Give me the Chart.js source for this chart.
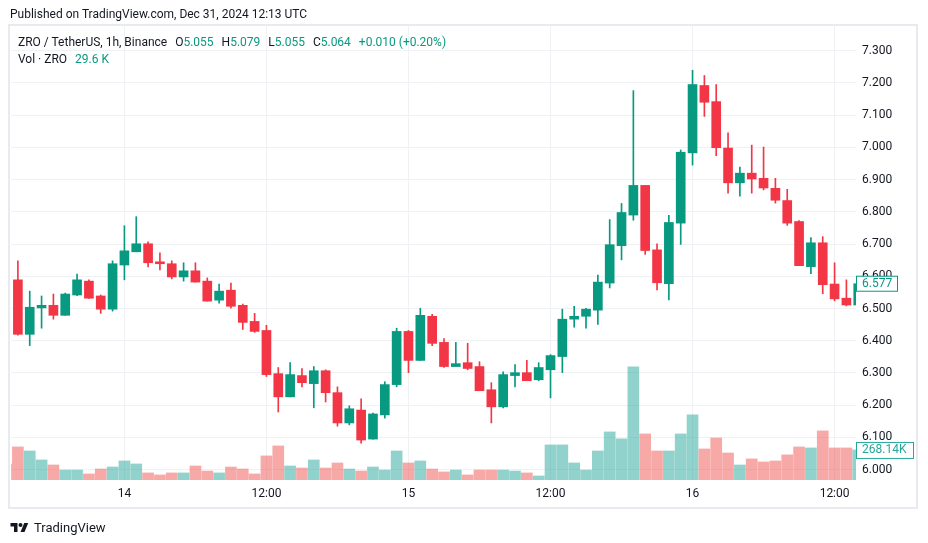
<!DOCTYPE html>
<html>
<head>
<meta charset="utf-8">
<script src="https://cdn.jsdelivr.net/npm/chart.js@4.4.1/dist/chart.umd.min.js"></script>
<style>
  html, body { margin: 0; padding: 0; background: #fff; }
  body { width: 928px; height: 543px; position: relative; overflow: hidden; font-family: Roboto, "Noto Sans", sans-serif; color: #131722; }
  #wrap { position: absolute; left: 0; top: 0; width: 928px; height: 543px; }
  #frame { position: absolute; left: 8px; top: 24px; width: 910px; height: 485px; box-sizing: border-box; border: 2px solid #e9eaef; pointer-events: none; }
  .txt { position: absolute; white-space: nowrap; font-size: 12px; line-height: 16px; }
  .up { color: #089981; }
  .gap { margin-left: 8px; }
  #logo { position: absolute; left: 10px; top: 517px; }
</style>
</head>
<body>
<div id="wrap"><canvas id="myChart" width="928" height="543"></canvas></div>
<div id="frame"></div>
<div class="txt" style="left:10px; top:6px; color:#131722;">Published on TradingView.com, Dec 31, 2024 12:13 UTC</div>
<div class="txt" style="left:18px; top:34px;">ZRO / TetherUS, 1h, Binance<span class="gap">O</span><span class="up">5.055</span><span class="gap">H</span><span class="up">5.079</span><span class="gap">L</span><span class="up">5.055</span><span class="gap">C</span><span class="up">5.064</span><span class="gap up">+0.010 (+0.20%)</span></div>
<div class="txt" style="left:18px; top:51px;">Vol · ZRO<span class="gap up">29.6 K</span></div>
<div id="logo">
  <svg width="19" height="14" viewBox="0 0 36 28" style="vertical-align:middle"><path d="M14 22H7V11H0V4h14v18z" fill="#131722"/><circle cx="20" cy="8" r="4" fill="#131722"/><path d="M28 22h-8l7.5-18h8L28 22z" fill="#131722"/></svg>
  <span style="font-size:13px; vertical-align:middle; margin-left:1px;">TradingView</span>
</div>
<script>
// hourly candles, first one is Dec 13 14:00 (hour 14 counted from Dec 13 00:00)
var firstHour = 14;
var opens  = [6.560, 6.589, 6.420, 6.502, 6.510, 6.479, 6.542, 6.585, 6.539, 6.498, 6.635, 6.676, 6.701, 6.645, 6.639, 6.598, 6.617, 6.585,
              6.526, 6.557, 6.510, 6.460, 6.432, 6.298, 6.226, 6.292, 6.267, 6.307, 6.239, 6.145, 6.185, 6.095, 6.170, 6.264,
              6.429, 6.339, 6.476, 6.395, 6.320, 6.332, 6.320, 6.248, 6.195, 6.292, 6.301, 6.279, 6.310, 6.351, 6.467, 6.476,
              6.495, 6.579, 6.695, 6.790, 6.882, 6.682, 6.577, 6.765, 6.983, 7.192, 7.142, 6.998, 6.890, 6.920, 6.904, 6.873,
              6.835, 6.770, 6.630, 6.704, 6.576, 6.532, 6.511];
var highs  = [6.600, 6.648, 6.554, 6.539, 6.545, 6.548, 6.607, 6.589, 6.542, 6.648, 6.757, 6.785, 6.707, 6.673, 6.648, 6.642, 6.642, 6.595,
              6.576, 6.579, 6.514, 6.485, 6.448, 6.317, 6.332, 6.314, 6.320, 6.310, 6.257, 6.198, 6.220, 6.176, 6.273, 6.439,
              6.432, 6.501, 6.482, 6.407, 6.395, 6.392, 6.335, 6.270, 6.304, 6.326, 6.339, 6.332, 6.357, 6.498, 6.507, 6.501,
              6.604, 6.776, 6.826, 7.176, 6.882, 6.701, 6.789, 6.992, 7.239, 7.223, 7.195, 7.045, 6.939, 7.007, 7.001, 6.904,
              6.870, 6.773, 6.720, 6.723, 6.642, 6.589, 6.580];
var lows   = [6.550, 6.417, 6.385, 6.439, 6.467, 6.479, 6.540, 6.531, 6.485, 6.492, 6.589, 6.676, 6.629, 6.620, 6.592, 6.585, 6.582, 6.523,
              6.517, 6.501, 6.435, 6.426, 6.289, 6.179, 6.226, 6.257, 6.192, 6.210, 6.135, 6.139, 6.082, 6.095, 6.160, 6.257,
              6.301, 6.339, 6.385, 6.317, 6.320, 6.310, 6.245, 6.145, 6.192, 6.257, 6.276, 6.276, 6.223, 6.301, 6.442, 6.439,
              6.451, 6.564, 6.651, 6.774, 6.668, 6.558, 6.527, 6.699, 6.945, 7.096, 6.974, 6.858, 6.849, 6.858, 6.868, 6.827,
              6.758, 6.633, 6.608, 6.546, 6.524, 6.508, 6.505];
var closes = [6.589, 6.420, 6.504, 6.510, 6.479, 6.545, 6.589, 6.532, 6.498, 6.639, 6.679, 6.701, 6.642, 6.639, 6.598, 6.617, 6.582, 6.523,
              6.554, 6.507, 6.457, 6.429, 6.295, 6.226, 6.295, 6.270, 6.307, 6.239, 6.145, 6.189, 6.092, 6.173, 6.264, 6.429,
              6.339, 6.479, 6.392, 6.320, 6.329, 6.314, 6.245, 6.195, 6.295, 6.301, 6.276, 6.317, 6.354, 6.467, 6.476, 6.498,
              6.582, 6.698, 6.798, 6.882, 6.680, 6.580, 6.767, 6.985, 7.195, 7.140, 6.999, 6.890, 6.920, 6.902, 6.874, 6.836,
              6.765, 6.633, 6.704, 6.574, 6.530, 6.511, 6.577];
// volume in thousands of ZRO
var volumes = [143, 295, 259, 179, 134, 89, 89, 54, 98, 116, 170, 143, 63, 45, 63, 63, 125, 80,
               63, 116, 98, 54, 215, 304, 125, 107, 179, 107, 152, 98, 80, 116, 89, 259,
               152, 170, 98, 72, 89, 45, 89, 89, 89, 80, 63, 36, 313, 313, 152, 89,
               259, 429, 367, 1010, 411, 259, 259, 411, 581, 277, 375, 241, 134, 188, 161, 170,
               224, 295, 286, 438, 286, 286, 268.14];

var priceTicks = [6.0, 6.1, 6.2, 6.3, 6.4, 6.5, 6.6, 6.7, 6.8, 6.9, 7.0, 7.1, 7.2, 7.3];
var timeTicks = [24, 36, 48, 60, 72, 84];
var timeTickLabels = ['14', '12:00', '15', '12:00', '16', '12:00'];

var upColor = '#089981';
var downColor = '#f23645';
var upVol = 'rgba(38, 166, 154, 0.5)';
var downVol = 'rgba(239, 83, 80, 0.5)';

var bodies = [], wicks = [], vols = [], candleColors = [], volColors = [];
for (var i = 0; i < opens.length; i++) {
    var x = firstHour + i;
    var up = closes[i] >= opens[i];
    bodies.push({x: x, y: [Math.min(opens[i], closes[i]), Math.max(opens[i], closes[i])]});
    wicks.push({x: x, y: [lows[i], highs[i]]});
    vols.push({x: x, y: volumes[i]});
    candleColors.push(up ? upColor : downColor);
    volColors.push(up ? upVol : downVol);
}

var lastIdx = closes.length - 1;
var lastUp = closes[lastIdx] >= opens[lastIdx];

var lastValueBoxes = {
    id: 'lastValueBoxes',
    afterDraw: function(chart) {
        var c = chart.ctx;
        var area = chart.chartArea;
        var yp = chart.scales.y.getPixelForValue(closes[lastIdx]);
        var yv = chart.scales.vol.getPixelForValue(volumes[lastIdx]);
        var col = lastUp ? upColor : downColor;
        var volCol = lastUp ? '#26a69a' : '#ef5350';
        c.save();
        c.font = '12px Roboto, "Noto Sans", sans-serif';
        c.textBaseline = 'middle';
        c.textAlign = 'left';
        // price label
        c.fillStyle = '#ffffff';
        c.fillRect(area.right + 0.5, yp - 7.5, 41, 15);
        c.strokeStyle = col;
        c.lineWidth = 1;
        c.strokeRect(area.right + 0.5, yp - 7.5, 41, 15);
        c.fillStyle = col;
        c.fillText(closes[lastIdx].toFixed(3), area.right + 6, yp + 0.5);
        // volume label
        c.fillStyle = '#ffffff';
        c.fillRect(area.right + 0.5, yv - 7.5, 57, 16);
        c.strokeStyle = volCol;
        c.strokeRect(area.right + 0.5, yv - 7.5, 57, 16);
        c.fillStyle = volCol;
        c.fillText(volumes[lastIdx].toFixed(2) + 'K', area.right + 6, yv + 0.5);
        c.restore();
    }
};

var ctx = document.getElementById('myChart');

var myChart = new Chart(ctx, {
    type: 'bar',
    data: {
        datasets: [
            {
                label: 'Bodies',
                data: bodies,
                backgroundColor: candleColors,
                barThickness: 9,
                grouped: false,
                order: 0,
                clip: 0
            },
            {
                label: 'Wicks',
                data: wicks,
                backgroundColor: candleColors,
                barThickness: 1,
                grouped: false,
                order: 1,
                clip: 0
            },
            {
                label: 'Volume',
                data: vols,
                backgroundColor: volColors,
                barThickness: 11,
                grouped: false,
                yAxisID: 'vol',
                order: 2,
                clip: 0
            }
        ]
    },
    options: {
        responsive: false,
        animation: false,
        events: [],
        layout: {
            padding: {left: 11, right: 11, top: 26, bottom: 35}
        },
        plugins: {
            legend: {display: false},
            tooltip: {enabled: false}
        },
        scales: {
            x: {
                type: 'linear',
                offset: false,
                min: 14.418,
                max: 85.81,
                afterBuildTicks: function(axis) {
                    axis.ticks = timeTicks.map(function(v) { return {value: v}; });
                },
                afterFit: function(axis) { axis.height = 28; },
                grid: {color: '#f0f1f4', drawTicks: false, offset: false},
                border: {display: false},
                ticks: {
                    autoSkip: false,
                    maxRotation: 0,
                    padding: 7,
                    color: '#131722',
                    font: {size: 12, family: 'Roboto, "Noto Sans", sans-serif'},
                    callback: function(value) {
                        var k = timeTicks.indexOf(value);
                        return k >= 0 ? timeTickLabels[k] : '';
                    }
                }
            },
            y: {
                type: 'linear',
                position: 'right',
                min: 5.968,
                max: 7.3766,
                afterBuildTicks: function(axis) {
                    axis.ticks = priceTicks.map(function(v) { return {value: v}; });
                },
                afterFit: function(axis) { axis.width = 61; },
                grid: {color: '#f0f1f4', drawTicks: false},
                border: {display: false},
                ticks: {
                    padding: 6,
                    color: '#131722',
                    font: {size: 12, family: 'Roboto, "Noto Sans", sans-serif'},
                    callback: function(value) { return value.toFixed(3); }
                }
            },
            vol: {
                type: 'linear',
                display: false,
                min: 0,
                max: 4050
            }
        }
    },
    plugins: [lastValueBoxes]
});
</script>
</body>
</html>
